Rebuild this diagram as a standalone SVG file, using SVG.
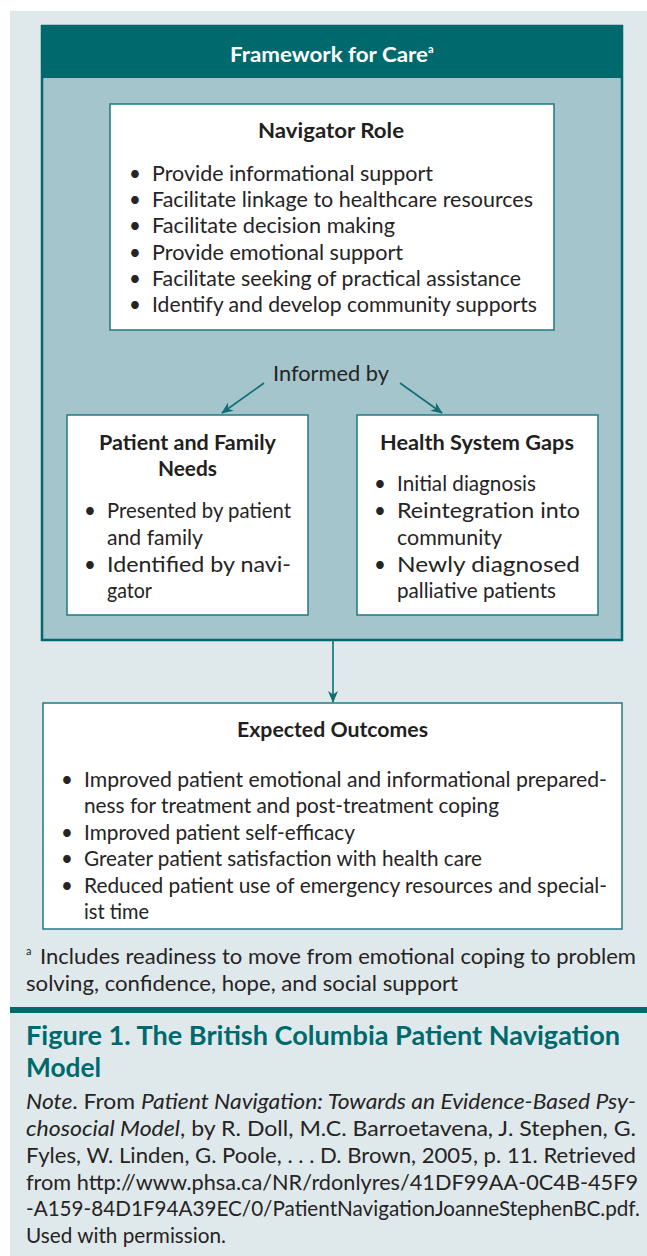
<svg xmlns="http://www.w3.org/2000/svg" width="647" height="1256" viewBox="0 0 647 1256">
<defs>
<style>
.t{font-family:Lato,"Open Sans","Liberation Sans",sans-serif;font-size:20.5px;fill:#262324}
.b{font-family:Lato,"Open Sans","Liberation Sans",sans-serif;font-size:21.5px;font-weight:bold;fill:#231f20}
.bx{fill:#ffffff;stroke:#1f7b80;stroke-width:1.5}
.ln{stroke:#0f6f74;stroke-width:1.6;fill:none}
.i{font-style:italic}
</style>
<marker id="ah" viewBox="0 0 12 10" refX="11" refY="5" markerWidth="12" markerHeight="10" markerUnits="userSpaceOnUse" orient="auto">
<path d="M0,0 L12,5 L0,10 L3.5,5 z" fill="#0f6f74"/>
</marker>
</defs>
<rect x="0" y="0" width="647" height="1256" fill="#ffffff"/>
<rect x="10" y="11" width="637" height="1245" fill="#dfe9eb"/>

<g id="framework">
<rect x="42" y="26" width="580" height="614" fill="#a3c5cb" stroke="#00696d" stroke-width="2.5"/>
<rect x="42" y="26" width="580" height="52" fill="#00696d"/>
<text x="230" y="62" class="b" style="fill:#ffffff;font-size:21px" textLength="198" lengthAdjust="spacingAndGlyphs">Framework for Care</text>
<text x="428" y="53" class="b" style="fill:#ffffff;font-size:11px">a</text>
</g>

<g id="navigator">
<rect x="110" y="104" width="444" height="226" class="bx"/>
<text x="258" y="138" class="b" textLength="146" lengthAdjust="spacingAndGlyphs">Navigator Role</text>
<text x="129" y="181" class="t">•</text><text x="152" y="181" class="t" textLength="281" lengthAdjust="spacingAndGlyphs">Provide informational support</text>
<text x="129" y="207" class="t">•</text><text x="152" y="207" class="t" textLength="381" lengthAdjust="spacingAndGlyphs">Facilitate linkage to healthcare resources</text>
<text x="129" y="233" class="t">•</text><text x="152" y="233" class="t" textLength="243" lengthAdjust="spacingAndGlyphs">Facilitate decision making</text>
<text x="129" y="260" class="t">•</text><text x="152" y="260" class="t" textLength="251" lengthAdjust="spacingAndGlyphs">Provide emotional support</text>
<text x="129" y="286" class="t">•</text><text x="152" y="286" class="t" textLength="369" lengthAdjust="spacingAndGlyphs">Facilitate seeking of practical assistance</text>
<text x="129" y="312" class="t">•</text><text x="152" y="312" class="t" textLength="385" lengthAdjust="spacingAndGlyphs">Identify and develop community supports</text>
</g>

<g id="informed-by">
<text x="273" y="381" class="t" textLength="116" lengthAdjust="spacingAndGlyphs">Informed by</text>
</g>

<g id="patient-family">
<rect x="67" y="415" width="241" height="200" class="bx"/>
<text x="99" y="450" class="b" textLength="177" lengthAdjust="spacingAndGlyphs">Patient and Family</text>
<text x="158" y="476" class="b" textLength="59" lengthAdjust="spacingAndGlyphs">Needs</text>
<text x="84" y="518" class="t">•</text><text x="107" y="518" class="t" textLength="184" lengthAdjust="spacingAndGlyphs">Presented by patient</text>
<text x="107" y="545" class="t" textLength="96" lengthAdjust="spacingAndGlyphs">and family</text>
<text x="84" y="572" class="t">•</text><text x="107" y="572" class="t" textLength="184" lengthAdjust="spacingAndGlyphs">Identified by navi-</text>
<text x="107" y="598" class="t" textLength="45" lengthAdjust="spacingAndGlyphs">gator</text>
</g>

<g id="health-gaps">
<rect x="357" y="415" width="241" height="200" class="bx"/>
<text x="380" y="450" class="b" textLength="194" lengthAdjust="spacingAndGlyphs">Health System Gaps</text>
<text x="374" y="491" class="t">•</text><text x="397" y="491" class="t" textLength="139" lengthAdjust="spacingAndGlyphs">Initial diagnosis</text>
<text x="374" y="518" class="t">•</text><text x="397" y="518" class="t" textLength="183" lengthAdjust="spacingAndGlyphs">Reintegration into</text>
<text x="397" y="545" class="t" textLength="105" lengthAdjust="spacingAndGlyphs">community</text>
<text x="374" y="572" class="t">•</text><text x="397" y="572" class="t" textLength="183" lengthAdjust="spacingAndGlyphs">Newly diagnosed</text>
<text x="397" y="598" class="t" textLength="159" lengthAdjust="spacingAndGlyphs">palliative patients</text>
</g>

<g id="expected-outcomes">
<rect x="43" y="703" width="579" height="226" class="bx"/>
<text x="237" y="737" class="b" textLength="191" lengthAdjust="spacingAndGlyphs">Expected Outcomes</text>
<text x="61" y="787" class="t">•</text><text x="84" y="787" class="t" textLength="523" lengthAdjust="spacingAndGlyphs">Improved patient emotional and informational prepared-</text>
<text x="84" y="813" class="t" textLength="415" lengthAdjust="spacingAndGlyphs">ness for treatment and post-treatment coping</text>
<text x="61" y="840" class="t">•</text><text x="84" y="840" class="t" textLength="271" lengthAdjust="spacingAndGlyphs">Improved patient self-efficacy</text>
<text x="61" y="866" class="t">•</text><text x="84" y="866" class="t" textLength="398" lengthAdjust="spacingAndGlyphs">Greater patient satisfaction with health care</text>
<text x="61" y="893" class="t">•</text><text x="84" y="893" class="t" textLength="523" lengthAdjust="spacingAndGlyphs">Reduced patient use of emergency resources and special-</text>
<text x="84" y="919" class="t" textLength="65" lengthAdjust="spacingAndGlyphs">ist time</text>
</g>

<g id="connectors">
<line x1="264" y1="383" x2="222" y2="413" class="ln" marker-end="url(#ah)"/>
<line x1="400" y1="383" x2="442" y2="413" class="ln" marker-end="url(#ah)"/>
<line x1="333" y1="641" x2="333" y2="702" class="ln" marker-end="url(#ah)"/>
</g>

<g id="footnote">
<text x="26" y="955" class="t" style="font-size:11px">a</text>
<text x="40" y="964" class="t" textLength="596" lengthAdjust="spacingAndGlyphs">Includes readiness to move from emotional coping to problem</text>
<text x="26" y="991" class="t" textLength="432" lengthAdjust="spacingAndGlyphs">solving, confidence, hope, and social support</text>
</g>

<rect x="10" y="1007" width="637" height="6" fill="#00696d"/>

<g id="caption">
<text x="26" y="1045" class="b" style="fill:#00696d;font-size:26px" textLength="594" lengthAdjust="spacingAndGlyphs">Figure 1. The British Columbia Patient Navigation</text>
<text x="26" y="1077" class="b" style="fill:#00696d;font-size:26px" textLength="75" lengthAdjust="spacingAndGlyphs">Model</text>
<text x="26" y="1109" class="t" textLength="610" lengthAdjust="spacingAndGlyphs"><tspan class="i">Note</tspan>. From <tspan class="i">Patient Navigation: Towards an Evidence-Based Psy-</tspan></text>
<text x="26" y="1136" class="t" textLength="610" lengthAdjust="spacingAndGlyphs"><tspan class="i">chosocial Model</tspan>, by R. Doll, M.C. Barroetavena, J. Stephen, G.</text>
<text x="26" y="1163" class="t" textLength="610" lengthAdjust="spacingAndGlyphs">Fyles, W. Linden, G. Poole, . . . D. Brown, 2005, p. 11. Retrieved</text>
<text x="26" y="1190" class="t" textLength="612" lengthAdjust="spacingAndGlyphs">from http://www.phsa.ca/NR/rdonlyres/41DF99AA-0C4B-45F9</text>
<text x="26" y="1216" class="t" textLength="614" lengthAdjust="spacingAndGlyphs">-A159-84D1F94A39EC/0/PatientNavigationJoanneStephenBC.pdf.</text>
<text x="26" y="1243" class="t" textLength="200" lengthAdjust="spacingAndGlyphs">Used with permission.</text>
</g>
</svg>
